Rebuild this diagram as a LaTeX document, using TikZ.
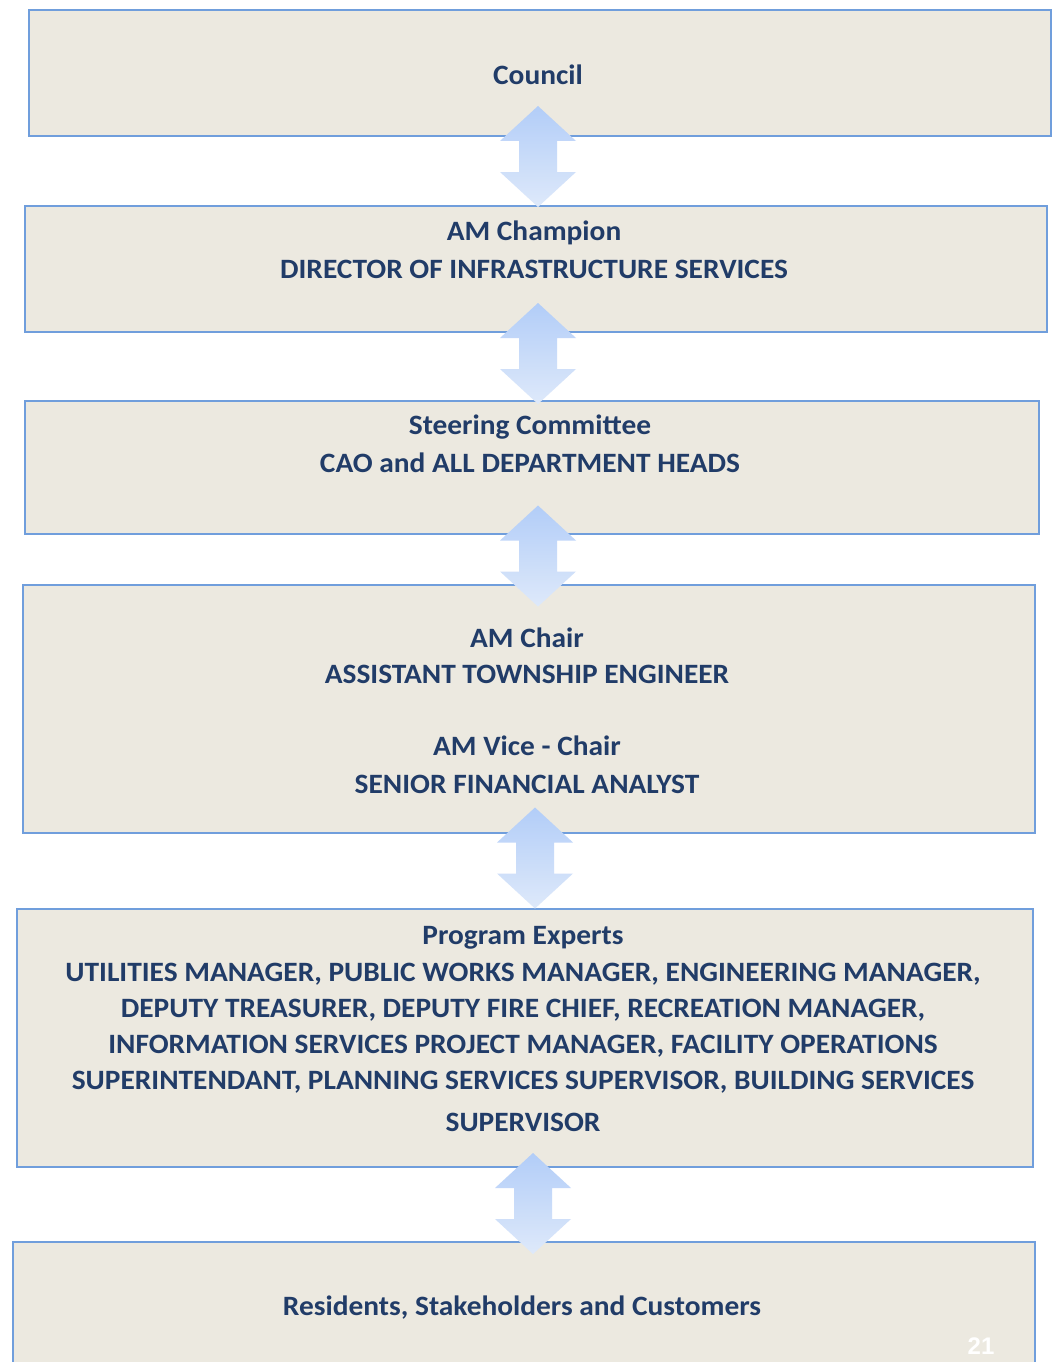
\documentclass[tikz,border=0pt]{standalone}
\usepackage{fontspec}
\setmainfont{Carlito}
\newfontfamily\numfont{Liberation Sans}
\usetikzlibrary{calc}
\definecolor{boxfill}{RGB}{236,233,224}
\definecolor{boxline}{RGB}{112,158,220}
\definecolor{txt}{RGB}{33,60,104}
\definecolor{arrtop}{RGB}{178,205,248}
\definecolor{arrbot}{RGB}{222,233,250}
\newcommand{\wtxt}[1]{\scalebox{1.05}[1]{#1}}
\tikzset{
  x=1pt,y=-1pt,
  panel/.style={draw=boxline,line width=2pt,fill=boxfill,inner sep=0pt},
  lbl/.style={text=txt,font=\fontsize{28}{36}\selectfont\bfseries,align=center,inner sep=0pt,yshift=-2pt},
  pics/dblarrow/.style={code={
    \shade[top color=arrtop,bottom color=arrbot]
      (0,-50.5) -- (38,-15.5) -- (19,-15.5) -- (19,15.5) -- (38,15.5) -- (0,50.5)
      -- (-38,15.5) -- (-19,15.5) -- (-19,-15.5) -- (-38,-15.5) -- cycle;
  }}
}
\newcommand{\panelbox}[5]{% name, x1, y1, x2, y2
  \node[panel,minimum width={#4-#2},minimum height={#5-#3},anchor=north west] (#1) at (#2,#3) {};}
\begin{document}
\begin{tikzpicture}
\useasboundingbox (0,0) rectangle (1054,1362);
\fill[white] (0,0) rectangle (1054,1362);
% boxes
\panelbox{b1}{28}{9}{1050}{135}
\panelbox{b2}{24}{205}{1046}{331}
\panelbox{b3}{24}{400}{1038}{533}
\panelbox{b4}{22}{584}{1034}{832}
\panelbox{b5}{16}{908}{1032}{1166}
\panelbox{b6}{12}{1241}{1034}{1400}
% arrows (connectors)
\pic at (538,156.5) {dblarrow};
\pic at (538,353.5) {dblarrow};
\pic at (538,556) {dblarrow};
\pic at (535,858) {dblarrow};
\pic at (533,1203.5) {dblarrow};
% texts
\node[lbl] (t1) at (538,73) {\wtxt{Council}};
\node[lbl] (t2a) at (534,231) {\wtxt{AM Champion}};
\node[lbl] (t2b) at (534,267) {\wtxt{DIRECTOR OF INFRASTRUCTURE SERVICES}};
\node[lbl] (t3a) at (530,425) {\wtxt{Steering Committee}};
\node[lbl] (t3b) at (530,461) {\wtxt{CAO and ALL DEPARTMENT HEADS}};
\node[lbl] (t4a) at (527,636) {\wtxt{AM Chair}};
\node[lbl] (t4b) at (527,672) {\wtxt{ASSISTANT TOWNSHIP ENGINEER}};
\node[lbl] (t4c) at (527,744) {\wtxt{AM Vice - Chair}};
\node[lbl] (t4d) at (527,782) {\wtxt{SENIOR FINANCIAL ANALYST}};
\node[lbl] (t5a) at (523,936) {\wtxt{Program Experts}};
\node[lbl] (t5b) at (523,972) {\wtxt{UTILITIES MANAGER, PUBLIC WORKS MANAGER, ENGINEERING MANAGER,}};
\node[lbl] (t5c) at (523,1008) {\wtxt{DEPUTY TREASURER, DEPUTY FIRE CHIEF, RECREATION MANAGER,}};
\node[lbl] (t5d) at (523,1044) {\wtxt{INFORMATION SERVICES PROJECT MANAGER, FACILITY OPERATIONS}};
\node[lbl] (t5e) at (523,1080) {\wtxt{SUPERINTENDANT, PLANNING SERVICES SUPERVISOR, BUILDING SERVICES}};
\node[lbl] (t5f) at (523,1120) {\wtxt{SUPERVISOR}};
\node[lbl] (t6) at (522,1306) {\wtxt{Residents, Stakeholders and Customers}};
\node[text=white,font=\numfont\fontsize{24}{26}\selectfont\bfseries,anchor=north,inner sep=0pt] (pg) at (981,1338) {21};
\end{tikzpicture}
\end{document}
